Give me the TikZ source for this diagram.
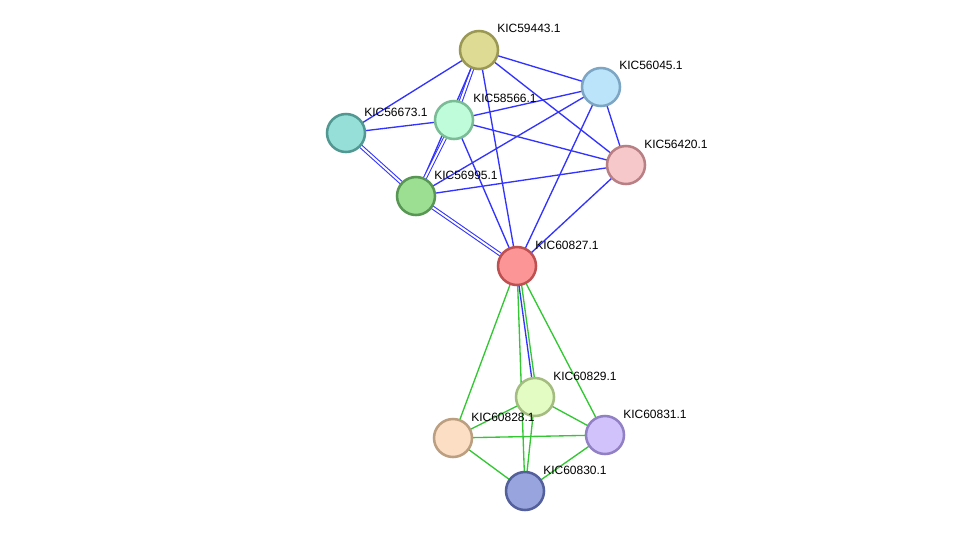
\documentclass[tikz,border=0pt]{standalone}
\usepackage{fontspec}
\setmainfont{Liberation Sans}
\begin{document}
\begin{tikzpicture}[x=0.75pt,y=-0.75pt,
  nd/.style={circle,draw,line width=1.9pt,minimum size=28.5pt,inner sep=0pt},
  lb/.style={anchor=west,font=\fontsize{9}{10}\selectfont,inner sep=0pt},
  be/.style={draw={rgb,255:red,51;green,51;blue,255},line width=1pt},
  bd/.style={draw={rgb,255:red,51;green,51;blue,255},line width=0.8pt,double=white,double distance=1.4pt},
  ge/.style={draw={rgb,255:red,51;green,200;blue,51},line width=1pt}]
\useasboundingbox (0,0) rectangle (976,537);
\fill[white] (0,0) rectangle (976,537);
\coordinate (p59443) at (479,50);
\coordinate (p56045) at (601,87);
\coordinate (p58566) at (454,120);
\coordinate (p56673) at (346,133);
\coordinate (p56420) at (626,165);
\coordinate (p56995) at (416,196);
\coordinate (p60827) at (517,266);
\coordinate (p60829) at (535,397);
\coordinate (p60828) at (453,438);
\coordinate (p60831) at (605,435);
\coordinate (p60830) at (525,491);
% blue edges
\draw[be] (p59443)--(p56673);
\draw[bd] (p59443)--(p58566);
\draw[be] (p59443)--(p56995);
\draw[be] (p59443)--(p56045);
\draw[be] (p59443)--(p56420);
\draw[be] (p59443)--(p60827);
\draw[be] (p56045)--(p58566);
\draw[be] (p56045)--(p56995);
\draw[be] (p56045)--(p56420);
\draw[be] (p56045)--(p60827);
\draw[be] (p58566)--(p56673);
\draw[be] (p58566)--(p56420);
\draw[bd] (p58566)--(p56995);
\draw[be] (p58566)--(p60827);
\draw[bd] (p56673)--(p56995);
\draw[be] (p56995)--(p56420);
\draw[bd] (p56995)--(p60827);
\draw[be] (p56420)--(p60827);
% green edges
\draw[ge] (p60827)--(p60828);
\draw[ge] (p60827)--(p60831);
\draw[ge] (p60827)--(p60830);
\draw[ge] ([xshift=1.5]p60827)--([xshift=1.5]p60829);
\draw[be] ([xshift=-0.5]p60827)--([xshift=-0.5]p60829);
\draw[ge] (p60829)--(p60828);
\draw[ge] (p60829)--(p60831);
\draw[ge] (p60829)--(p60830);
\draw[ge] (p60828)--(p60831);
\draw[ge] (p60828)--(p60830);
\draw[ge] (p60831)--(p60830);
% nodes
\node[nd,fill={rgb,255:red,222;green,219;blue,148},draw={rgb,255:red,155;green,152;blue,84}] (n59443) at (p59443) {};
\node[nd,fill={rgb,255:red,187;green,228;blue,250},draw={rgb,255:red,125;green,166;blue,196}] (n56045) at (p56045) {};
\node[nd,fill={rgb,255:red,190;green,252;blue,218},draw={rgb,255:red,122;green,188;blue,150}] (n58566) at (p58566) {};
\node[nd,fill={rgb,255:red,150;green,222;blue,216},draw={rgb,255:red,82;green,152;blue,146}] (n56673) at (p56673) {};
\node[nd,fill={rgb,255:red,246;green,200;blue,202},draw={rgb,255:red,184;green,128;blue,132}] (n56420) at (p56420) {};
\node[nd,fill={rgb,255:red,156;green,222;blue,146},draw={rgb,255:red,88;green,150;blue,84}] (n56995) at (p56995) {};
\node[nd,fill={rgb,255:red,252;green,150;blue,150},draw={rgb,255:red,190;green,80;blue,82}] (n60827) at (p60827) {};
\node[nd,fill={rgb,255:red,226;green,252;blue,196},draw={rgb,255:red,164;green,188;blue,128}] (n60829) at (p60829) {};
\node[nd,fill={rgb,255:red,252;green,222;blue,196},draw={rgb,255:red,188;green,158;blue,128}] (n60828) at (p60828) {};
\node[nd,fill={rgb,255:red,210;green,194;blue,252},draw={rgb,255:red,146;green,128;blue,196}] (n60831) at (p60831) {};
\node[nd,fill={rgb,255:red,152;green,164;blue,222},draw={rgb,255:red,84;green,96;blue,156}] (n60830) at (p60830) {};
% labels
\node[lb] (l59443) at (497,28) {KIC59443.1};
\node[lb] (l56045) at (619,65) {KIC56045.1};
\node[lb] (l58566) at (473,98) {KIC58566.1};
\node[lb] (l56673) at (364,112) {KIC56673.1};
\node[lb] (l56420) at (644,144) {KIC56420.1};
\node[lb] (l56995) at (434,175) {KIC56995.1};
\node[lb] (l60827) at (535,245) {KIC60827.1};
\node[lb] (l60829) at (553,376) {KIC60829.1};
\node[lb] (l60828) at (471,417) {KIC60828.1};
\node[lb] (l60831) at (623,414) {KIC60831.1};
\node[lb] (l60830) at (543,470) {KIC60830.1};
\end{tikzpicture}
\end{document}
